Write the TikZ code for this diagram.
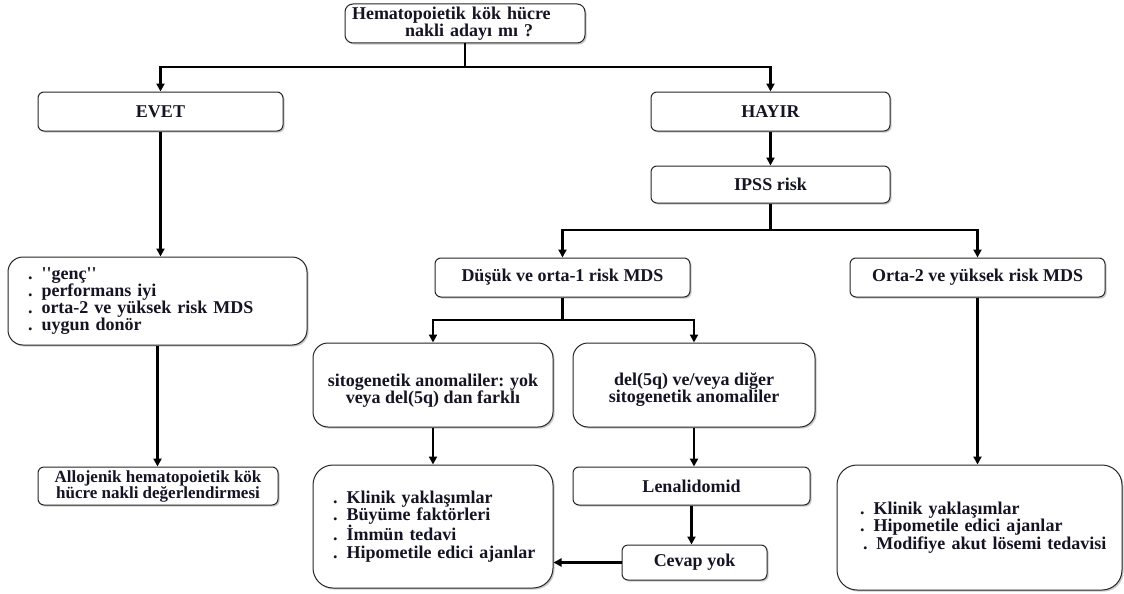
\documentclass[tikz,border=0pt]{standalone}
\usepackage{fontspec}
\setmainfont{Liberation Serif}[Ligatures=TeXOff]
\usetikzlibrary{arrows.meta,shadows}
\definecolor{txt}{RGB}{20,20,36}
\tikzset{
  box/.style={draw=black!85, line width=1pt, fill=white, inner sep=0pt,
    align=center, text=txt,
    font=\fontsize{18}{17.6}\selectfont\bfseries,
    drop shadow={shadow xshift=1.6pt, shadow yshift=-1.6pt, opacity=0.35, fill=black!60}},
  smallbox/.style={box, rounded corners=6pt},
  bigbox/.style={box, rounded corners=15pt},
  listbox/.style={box, align=left, rounded corners=20pt},
  conn/.style={line width=2.4pt, black},
  arr/.style={conn, -{Triangle[length=8pt,width=8pt]}},
}
% one unbreakable line of a list
\newcommand{\listline}[1]{\mbox{#1}}
\begin{document}
\begin{tikzpicture}[x=1pt,y=-1pt]
\useasboundingbox (0,0) rectangle (1124,594);

% decision at the top
\node[box, rounded corners=8pt, align=left, minimum width=240pt, minimum height=39pt,
      text width=226pt, inner xsep=7pt] (top) at (465,23.5)
  {\listline{Hematopoietik kök hücre}\\\listline{\hspace*{53pt}nakli adayı mı ?}};

% first branch level
\node[smallbox, minimum width=245pt, minimum height=39pt] (evet) at (160.5,111.5) {EVET};
\node[smallbox, minimum width=239pt, minimum height=39pt] (hayir) at (770.5,111.5) {HAYIR};
\node[smallbox, minimum width=239pt, minimum height=37pt] (ipss) at (770.5,184.5) {IPSS risk};

% transplant side
\node[box, rounded corners=15pt, align=left, minimum width=299pt, minimum height=88pt,
      text width=259pt, inner xsep=20pt, font=\fontsize{18}{16.8}\selectfont\bfseries] (kriter) at (157.5,301)
  {\listline{. ''genç''}\\
   \listline{.\hspace{9pt}performans iyi}\\
   \listline{.\hspace{9pt}orta-2 ve yüksek risk MDS}\\
   \listline{.\hspace{9pt}uygun donör}};
\node[smallbox, minimum width=240pt, minimum height=38pt, font=\fontsize{17}{16}\selectfont\bfseries] (allo) at (158,486)
  {Allojenik hematopoietik kök\\hücre nakli değerlendirmesi};

% risk groups
\node[smallbox, minimum width=255pt, minimum height=39pt] (dusuk) at (562.5,277.5) {Düşük ve orta-1 risk MDS};
\node[smallbox, minimum width=255pt, minimum height=39pt] (orta) at (977.5,277.5) {Orta-2 ve yüksek risk MDS};

% cytogenetics (the strut sets the text a little below the middle)
\node[bigbox, minimum width=240pt, minimum height=84pt] (sitoA) at (433,385)
  {\rule{0pt}{24pt}sitogenetik anomaliler: yok\\veya del(5q) dan farklı};
\node[bigbox, minimum width=242pt, minimum height=84pt] (sitoB) at (694,385)
  {\rule{0pt}{22pt}del(5q) ve/veya diğer\\sitogenetik anomaliler};

% treatments
\node[listbox, minimum width=240pt, minimum height=123pt, text width=200pt, inner xsep=20pt] (tedaviA) at (433,526.5)
  {\listline{. Klinik yaklaşımlar}\\\listline{. Büyüme faktörleri}\\
   \listline{. İmmün tedavi}\\\listline{. Hipometile edici ajanlar}};
\node[smallbox, minimum width=237pt, minimum height=38pt] (lena) at (691.5,486) {Lenalidomid};
\node[smallbox, minimum width=145pt, minimum height=35pt] (cevap) at (694.5,562.5) {Cevap yok};
\node[listbox, minimum width=285pt, minimum height=125pt, text width=239pt, inner xsep=23pt] (tedaviB) at (979.5,527.5)
  {\listline{. Klinik yaklaşımlar}\\\listline{. Hipometile edici ajanlar}\\
   \listline{\hspace*{3pt}. Modifiye akut lösemi tedavisi}};

% junction points of the split connectors
\coordinate (j1) at (465,67);
\coordinate (j2) at (772,230);
\coordinate (j3) at (563,320);

% connectors
\draw[conn] (top.south) -- (top.south |- j1);
\draw[arr] (top.south |- j1) -| (evet.north);
\draw[arr] (top.south |- j1) -| (hayir.north);
\draw[arr] (hayir.south) -- (ipss.north);

\draw[arr] (evet.south) -- (evet.south |- kriter.north);
\draw[arr] (kriter.south) -- (kriter.south |- allo.north);

\draw[conn] (ipss.south) -- (ipss.south |- j2);
\draw[arr] (ipss.south |- j2) -| (dusuk.north);
\draw[arr] (ipss.south |- j2) -| (orta.north);

\draw[conn] (dusuk.south) -- (dusuk.south |- j3);
\draw[arr] (dusuk.south |- j3) -| (sitoA.north);
\draw[arr] (dusuk.south |- j3) -| (sitoB.north);

\draw[arr] (sitoA.south) -- (tedaviA.north);
\draw[arr] (sitoB.south) -- (sitoB.south |- lena.north);
\draw[arr] (lena.south) -- (lena.south |- cevap.north);
\draw[arr] (cevap.west) -- (tedaviA.east |- cevap.west);

\draw[arr] (orta.south) -- (orta.south |- tedaviB.north);
\end{tikzpicture}
\end{document}
